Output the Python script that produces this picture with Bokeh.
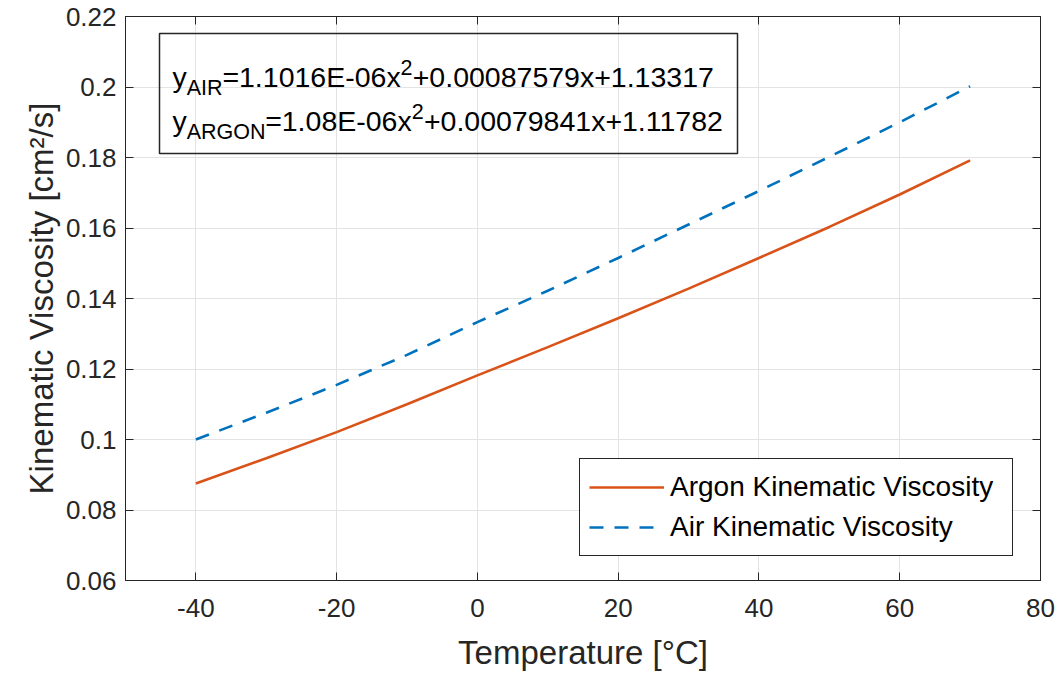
from bokeh.plotting import figure
from bokeh.models import (Legend, LegendItem, Label, BoxAnnotation, LinearAxis,
                          FixedTicker, NumeralTickFormatter, Range1d,
                          CustomJSTickFormatter)
from bokeh.embed import file_html
from bokeh.resources import INLINE

# ---------------- data ----------------
temperature = [-40, -30, -20, -10, 0, 10, 20, 30, 40, 50, 60, 70]
argon_visc = [0.0875, 0.0947, 0.1021, 0.1100, 0.1182, 0.1262, 0.1344,
              0.1428, 0.1515, 0.1603, 0.1695, 0.1792]
air_visc = [0.1000, 0.1076, 0.1155, 0.1240, 0.1333, 0.1422, 0.1515,
            0.1610, 0.1705, 0.1802, 0.1900, 0.2002]
x_ticks = [-40, -20, 0, 20, 40, 60, 80]
y_ticks = [0.06, 0.08, 0.10, 0.12, 0.14, 0.16, 0.18, 0.20, 0.22]
series_labels = ["Argon Kinematic Viscosity", "Air Kinematic Viscosity"]
eq_air = ["y", "AIR", "=1.1016E-06x", "2", "+0.00087579x+1.13317"]
eq_argon = ["y", "ARGON", "=1.08E-06x", "2", "+0.00079841x+1.11782"]

# ---------------- style ----------------
FONT = "Liberation Sans"
AX = "#262626"
ORANGE = "#D95319"
BLUE = "#0072BD"
GRID = "#e3e3e3"

XMIN, XMAX = -50, 80
YMIN, YMAX = 0.06, 0.22
FW, FH = 915, 564

p = figure(frame_width=FW, frame_height=FH,
           x_range=Range1d(XMIN, XMAX), y_range=Range1d(YMIN, YMAX),
           output_backend="svg", toolbar_location=None,
           min_border_left=125, min_border_top=16, min_border_right=15,
           min_border_bottom=10, background_fill_color="white",
           border_fill_color="white")

p.outline_line_color = AX
p.outline_line_width = 1
p.outline_line_alpha = 1

def style_axis(ax):
    ax.axis_line_color = AX
    ax.major_tick_line_color = AX
    ax.major_tick_in = 8
    ax.major_tick_out = 0
    ax.minor_tick_line_color = None
    ax.major_label_text_font = FONT
    ax.major_label_text_color = AX
    ax.major_label_text_font_size = "26px"
    ax.axis_label_text_font = FONT
    ax.axis_label_text_font_style = "normal"
    ax.axis_label_text_color = AX
    ax.axis_label_text_font_size = "33px"

xa = p.xaxis[0]
ya = p.yaxis[0]
style_axis(xa)
style_axis(ya)
xa.ticker = FixedTicker(ticks=x_ticks)
ya.ticker = FixedTicker(ticks=y_ticks)
xa.formatter = NumeralTickFormatter(format="0")
ya.formatter = NumeralTickFormatter(format="0.[00]")
xa.major_label_standoff = 18
ya.major_label_standoff = 9
xa.axis_label = "Temperature [°C]"
ya.axis_label = "Kinematic Viscosity [cm²/s]"
xa.axis_label_standoff = 14
ya.axis_label_standoff = 3

# box-style mirror axes: tick marks only, no labels
top = LinearAxis(ticker=FixedTicker(ticks=x_ticks),
                 formatter=CustomJSTickFormatter(code="return ''"))
right = LinearAxis(ticker=FixedTicker(ticks=y_ticks),
                   formatter=CustomJSTickFormatter(code="return ''"))
for ax in (top, right):
    style_axis(ax)
    ax.major_label_text_font_size = "1px"
    ax.major_label_standoff = 0
p.add_layout(top, "above")
p.add_layout(right, "right")

p.xgrid.ticker = FixedTicker(ticks=x_ticks)
p.ygrid.ticker = FixedTicker(ticks=y_ticks)
p.xgrid.grid_line_color = GRID
p.ygrid.grid_line_color = GRID
p.xgrid.grid_line_width = 1
p.ygrid.grid_line_width = 1

r_argon = p.line(temperature, argon_visc, line_color=ORANGE, line_width=2.6)
r_air = p.line(temperature, air_visc, line_color=BLUE, line_width=2.6,
               line_dash="14 11")

legend = Legend(items=[LegendItem(label=series_labels[0], renderers=[r_argon]),
                       LegendItem(label=series_labels[1], renderers=[r_air])],
                location=(454, 24), orientation="vertical",
                glyph_width=75, glyph_height=38, spacing=2, padding=9,
                margin=0, label_standoff=6, label_width=333,
                label_text_font=FONT, label_text_font_size="28px",
                label_text_color="#000000",
                border_line_color=AX, border_line_width=1.5,
                border_line_alpha=1.0,
                background_fill_color="white", background_fill_alpha=1.0)
p.add_layout(legend)

# ---------- equation box (positions in screen px of the frame) ----------
PXU = FW / (XMAX - XMIN)
PYU = FH / (YMAX - YMIN)

def dx(px):
    return XMIN + px / PXU

def dy(py):
    return YMAX - py / PYU

box = BoxAnnotation(left=dx(34), right=dx(612), top=dy(17), bottom=dy(137),
                    fill_alpha=0, line_color=AX, line_alpha=1.0,
                    line_width=1.5)
p.add_layout(box)

scale = 28.5 / 28
text_x = 47
offsets1 = [o * scale for o in [0, 14, 49, 224, 236]]
offsets2 = [o * scale for o in [0, 14, 91, 235, 247]]
sizes = ["28.5px", "21.5px", "28.5px", "21.5px", "28.5px"]
shifts = [0, 10.5, 0, -9.5, 0]

def put_line(parts, offsets, base_py):
    for txt, off, sz, sh in zip(parts, offsets, sizes, shifts):
        p.add_layout(Label(x=dx(text_x), y=dy(base_py + sh), x_offset=off,
                           text=txt, text_font=FONT, text_font_size=sz,
                           text_color="#000000", text_baseline="alphabetic",
                           text_align="left"))

put_line(eq_air, offsets1, 60.5)
put_line(eq_argon, offsets2, 104.5)

open("out.html", "w").write(file_html(p, INLINE))
